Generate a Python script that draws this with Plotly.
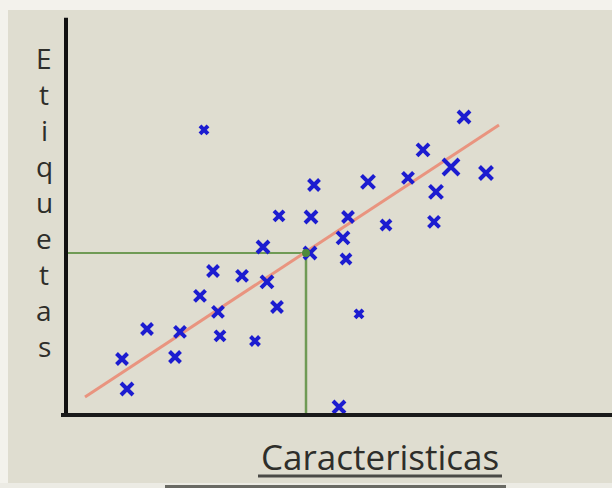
import plotly.graph_objects as go

# Data (feature value, label value)
feat = [2.76, 7.96, 7.14, 7.70, 8.40, 4.96, 6.04, 6.84, 7.40, 4.26, 4.90, 5.64, 6.40, 7.36,
        3.94, 5.54, 4.88, 5.60, 2.94, 3.52, 4.02, 2.68, 4.22, 3.04, 5.86, 1.62, 2.28, 3.08,
        3.78, 1.12, 2.18, 1.22, 5.46]
label = [7.13, 7.45, 6.63, 6.20, 6.05, 5.75, 5.83, 5.93, 5.58, 4.98, 4.95, 4.95, 4.75, 4.83,
         4.20, 4.43, 4.05, 3.90, 3.60, 3.48, 3.33, 2.98, 2.70, 2.58, 2.53, 2.15, 2.08, 1.98,
         1.85, 1.40, 1.45, 0.65, 0.20]
msize = [8, 12, 12, 16, 13, 11, 13, 11, 13, 10, 12, 11, 10, 11,
         12, 12, 12, 10, 11, 11, 12, 11, 11, 11, 8, 11, 11, 10,
         9, 11, 11, 12, 12]

fit_x = [0.38, 8.66]
fit_y = [0.45, 7.25]

query_x = 4.80
query_y = 4.05

axis_x_end = 11.2
axis_y_end = 9.93

x_title = "Caracteristicas"
y_title = "Etiquetas"

fig = go.Figure()

# green guide lines
fig.add_trace(go.Scatter(x=[0.04, query_x], y=[query_y, query_y], mode="lines",
                         line=dict(color="#6f9a55", width=2), hoverinfo="skip"))
fig.add_trace(go.Scatter(x=[query_x, query_x], y=[query_y, 0], mode="lines",
                         line=dict(color="#6f9a55", width=2.5), hoverinfo="skip"))
# red regression line
fig.add_trace(go.Scatter(x=fit_x, y=fit_y, mode="lines",
                         line=dict(color="#e9947f", width=3), hoverinfo="skip"))
# data points
fig.add_trace(go.Scatter(x=feat, y=label, mode="markers",
                         marker=dict(symbol="x-thin", size=msize, color="#1c1cd0", opacity=1,
                                     line=dict(color="#1c1cd0", width=4))))
# green query point
fig.add_trace(go.Scatter(x=[query_x], y=[query_y], mode="markers",
                         marker=dict(symbol="circle", size=8, color="#4f8a3a", opacity=1)))
# hand drawn axes
fig.add_trace(go.Scatter(x=[0, 0], y=[axis_y_end, 0], mode="lines",
                         line=dict(color="#111111", width=4), hoverinfo="skip"))
fig.add_trace(go.Scatter(x=[-0.1, axis_x_end], y=[0, 0], mode="lines",
                         line=dict(color="#1a1a1a", width=4), hoverinfo="skip"))

annotations = [dict(text=x_title, xref="paper", yref="paper", x=380 / 612, y=1 - 456 / 488,
                    showarrow=False, xanchor="center", yanchor="middle",
                    font=dict(family="Open Sans", size=35, color="#2e2e2a"))]
for i, ch in enumerate(y_title):
    annotations.append(dict(text=ch, xref="paper", yref="paper", x=44 / 612,
                            y=1 - (58 + 36 * i) / 488, showarrow=False,
                            xanchor="center", yanchor="middle",
                            font=dict(family="Open Sans", size=28, color="#2e2e2a")))

shapes = [
    dict(type="rect", xref="paper", yref="paper", x0=0, x1=1, y0=1 - 10 / 488, y1=1,
         fillcolor="#f3f2ec", line_width=0, layer="below"),
    dict(type="rect", xref="paper", yref="paper", x0=0, x1=8 / 612, y0=0, y1=1,
         fillcolor="#f3f2ec", line_width=0, layer="below"),
    dict(type="rect", xref="paper", yref="paper", x0=0, x1=1, y0=0, y1=5 / 488,
         fillcolor="#ecebe4", line_width=0, layer="below"),
    dict(type="rect", xref="paper", yref="paper", x0=165 / 612, x1=506 / 612, y0=0, y1=3 / 488,
         fillcolor="#6a6a64", line_width=0, layer="below"),
    dict(type="line", xref="paper", yref="paper", x0=258 / 612, x1=502 / 612,
         y0=1 - 476 / 488, y1=1 - 476 / 488, line=dict(color="#4a4a46", width=3)),
]

fig.update_layout(
    width=612, height=488,
    margin=dict(l=0, r=0, t=0, b=0),
    paper_bgcolor="#dfddd0", plot_bgcolor="rgba(0,0,0,0)",
    showlegend=False,
    xaxis=dict(range=[-66 / 50, (612 - 66) / 50], visible=False, fixedrange=True),
    yaxis=dict(range=[-73 / 40, 415 / 40], visible=False, fixedrange=True),
    annotations=annotations, shapes=shapes,
)

fig.write_html("out.html", config={"displayModeBar": False},
               post_script="document.body.style.margin='0';document.body.style.overflow='hidden';")
